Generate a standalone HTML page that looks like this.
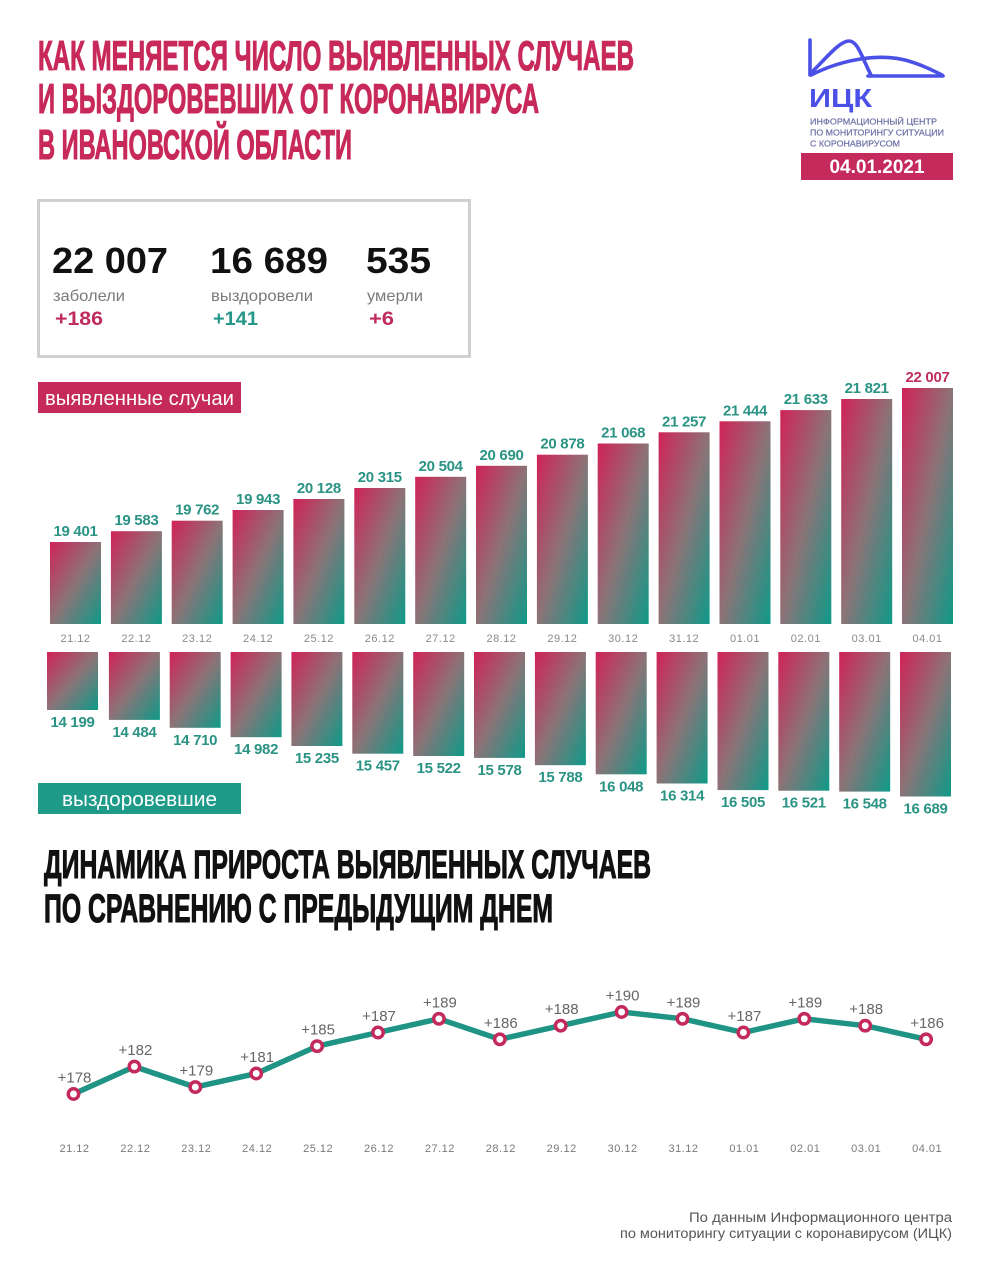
<!DOCTYPE html>
<html>
<head>
<meta charset="utf-8">
<style>
html,body{margin:0;padding:0;background:#fff;}
svg{display:block;}
text{font-family:"Liberation Sans","DejaVu Sans",sans-serif;}
</style>
</head>
<body>
<svg width="993" height="1280" viewBox="0 0 993 1280" xmlns="http://www.w3.org/2000/svg">
<defs>
<linearGradient id="g" x1="0" y1="0" x2="1" y2="1">
<stop offset="0" stop-color="#d02358"/>
<stop offset="0.5" stop-color="#8c7377"/>
<stop offset="1" stop-color="#0e9a89"/>
</linearGradient>
</defs>
<rect width="993" height="1280" fill="#fff"/>

<!-- Title -->
<g fill="#c8295b" stroke="#c8295b" stroke-width="1.1" font-weight="bold" font-size="42">
<text x="38" y="70" textLength="596" lengthAdjust="spacingAndGlyphs">КАК МЕНЯЕТСЯ ЧИСЛО ВЫЯВЛЕННЫХ СЛУЧАЕВ</text>
<text x="38" y="113" textLength="501" lengthAdjust="spacingAndGlyphs">И ВЫЗДОРОВЕВШИХ ОТ КОРОНАВИРУСА</text>
<text x="38" y="159" textLength="314" lengthAdjust="spacingAndGlyphs">В ИВАНОВСКОЙ ОБЛАСТИ</text>
</g>

<!-- Logo -->
<g fill="none" stroke="#4b50e6" stroke-width="3.6" stroke-linecap="round" stroke-linejoin="round">
<path d="M810,40 L810,75"/>
<path d="M811,73 C828,56 840,41 849,41 C858,41 862,58 871,75"/>
<path d="M811,75 C845,58 880,54 905,60 C920,64 932,70 942,75"/>
<path d="M868,76 L943,76"/>
</g>
<text x="809" y="107" font-size="26" font-weight="bold" fill="#4b50e6" textLength="63" lengthAdjust="spacingAndGlyphs">ИЦК</text>
<g fill="#6d70a6" font-size="8.5" stroke="#6d70a6" stroke-width="0.2">
<text x="810" y="124.5" textLength="127" lengthAdjust="spacingAndGlyphs">ИНФОРМАЦИОННЫЙ ЦЕНТР</text>
<text x="810" y="135.5" textLength="134" lengthAdjust="spacingAndGlyphs">ПО МОНИТОРИНГУ СИТУАЦИИ</text>
<text x="810" y="146.5" textLength="90" lengthAdjust="spacingAndGlyphs">С КОРОНАВИРУСОМ</text>
</g>
<rect x="801" y="153" width="152" height="27" fill="#c42a5c"/>
<text x="877" y="173" font-size="19" font-weight="bold" fill="#fff" text-anchor="middle" textLength="95" lengthAdjust="spacingAndGlyphs">04.01.2021</text>

<!-- Stats box -->
<rect x="38.5" y="200.5" width="431" height="156" fill="none" stroke="#d0d0d0" stroke-width="3"/>
<g font-size="36" font-weight="bold" fill="#111">
<text x="52" y="273" textLength="116" lengthAdjust="spacingAndGlyphs">22 007</text>
<text x="210" y="273" textLength="118" lengthAdjust="spacingAndGlyphs">16 689</text>
<text x="366" y="273" textLength="65" lengthAdjust="spacingAndGlyphs">535</text>
</g>
<g font-size="16" fill="#7a7a7a">
<text x="53" y="301" textLength="72" lengthAdjust="spacingAndGlyphs">заболели</text>
<text x="211" y="301" textLength="102" lengthAdjust="spacingAndGlyphs">выздоровели</text>
<text x="367" y="301" textLength="56" lengthAdjust="spacingAndGlyphs">умерли</text>
</g>
<g font-size="19" font-weight="bold">
<text x="55" y="325" fill="#c02c5c" textLength="48" lengthAdjust="spacingAndGlyphs">+186</text>
<text x="213" y="325" fill="#25968a" textLength="45" lengthAdjust="spacingAndGlyphs">+141</text>
<text x="369" y="325" fill="#c02c5c" textLength="25" lengthAdjust="spacingAndGlyphs">+6</text>
</g>

<!-- Label boxes -->
<rect x="38" y="382" width="203" height="31" fill="#c62a5a"/>
<text x="45" y="405" font-size="20" fill="#fff" textLength="189" lengthAdjust="spacingAndGlyphs">выявленные случаи</text>
<rect x="38" y="783" width="203" height="31" fill="#1e9a89"/>
<text x="62" y="806" font-size="20" fill="#fff" textLength="155" lengthAdjust="spacingAndGlyphs">выздоровевшие</text>

<!-- Top bars -->
<g fill="url(#g)">
<rect x="50.0" y="542.0" width="51" height="82.0"/>
<rect x="110.9" y="531.2" width="51" height="92.8"/>
<rect x="171.7" y="520.7" width="51" height="103.3"/>
<rect x="232.6" y="510.0" width="51" height="114.0"/>
<rect x="293.4" y="499.0" width="51" height="125.0"/>
<rect x="354.3" y="488.0" width="51" height="136.0"/>
<rect x="415.2" y="476.8" width="51" height="147.2"/>
<rect x="476.0" y="465.8" width="51" height="158.2"/>
<rect x="536.9" y="454.7" width="51" height="169.3"/>
<rect x="597.7" y="443.5" width="51" height="180.5"/>
<rect x="658.6" y="432.3" width="51" height="191.7"/>
<rect x="719.5" y="421.3" width="51" height="202.7"/>
<rect x="780.3" y="410.1" width="51" height="213.9"/>
<rect x="841.2" y="399.0" width="51" height="225.0"/>
<rect x="902.0" y="388.0" width="51" height="236.0"/>
</g>
<g font-size="15" font-weight="bold" fill="#2a9384" text-anchor="middle" letter-spacing="-0.3">
<text x="75.5" y="536">19 401</text>
<text x="136.4" y="525.2">19 583</text>
<text x="197.2" y="514.7">19 762</text>
<text x="258.1" y="504">19 943</text>
<text x="318.9" y="493">20 128</text>
<text x="379.8" y="482">20 315</text>
<text x="440.7" y="470.8">20 504</text>
<text x="501.5" y="459.8">20 690</text>
<text x="562.4" y="448.7">20 878</text>
<text x="623.2" y="437.5">21 068</text>
<text x="684.1" y="426.3">21 257</text>
<text x="745.0" y="415.3">21 444</text>
<text x="805.8" y="404.1">21 633</text>
<text x="866.7" y="393">21 821</text>
<text x="927.5" y="382" fill="#c02c5c">22 007</text>
</g>
<g font-size="11" fill="#8a8a8a" text-anchor="middle" letter-spacing="0.5">
<text x="75.5" y="642">21.12</text>
<text x="136.4" y="642">22.12</text>
<text x="197.2" y="642">23.12</text>
<text x="258.1" y="642">24.12</text>
<text x="318.9" y="642">25.12</text>
<text x="379.8" y="642">26.12</text>
<text x="440.7" y="642">27.12</text>
<text x="501.5" y="642">28.12</text>
<text x="562.4" y="642">29.12</text>
<text x="623.2" y="642">30.12</text>
<text x="684.1" y="642">31.12</text>
<text x="745.0" y="642">01.01</text>
<text x="805.8" y="642">02.01</text>
<text x="866.7" y="642">03.01</text>
<text x="927.5" y="642">04.01</text>
</g>

<!-- Bottom bars -->
<g fill="url(#g)">
<rect x="47.0" y="652" width="51" height="58.0"/>
<rect x="108.9" y="652" width="51" height="67.9"/>
<rect x="169.7" y="652" width="51" height="75.8"/>
<rect x="230.6" y="652" width="51" height="85.2"/>
<rect x="291.4" y="652" width="51" height="94.0"/>
<rect x="352.3" y="652" width="51" height="101.7"/>
<rect x="413.2" y="652" width="51" height="104.0"/>
<rect x="474.0" y="652" width="51" height="105.9"/>
<rect x="534.9" y="652" width="51" height="113.2"/>
<rect x="595.7" y="652" width="51" height="122.3"/>
<rect x="656.6" y="652" width="51" height="131.5"/>
<rect x="717.5" y="652" width="51" height="138.1"/>
<rect x="778.3" y="652" width="51" height="138.7"/>
<rect x="839.2" y="652" width="51" height="139.6"/>
<rect x="900.0" y="652" width="51" height="144.5"/>
</g>
<g font-size="15" font-weight="bold" fill="#2a9384" text-anchor="middle" letter-spacing="-0.3">
<text x="72.5" y="727">14 199</text>
<text x="134.4" y="736.9">14 484</text>
<text x="195.2" y="744.8">14 710</text>
<text x="256.1" y="754.2">14 982</text>
<text x="316.9" y="763">15 235</text>
<text x="377.8" y="770.7">15 457</text>
<text x="438.7" y="773">15 522</text>
<text x="499.5" y="774.9">15 578</text>
<text x="560.4" y="782.2">15 788</text>
<text x="621.2" y="791.3">16 048</text>
<text x="682.1" y="800.5">16 314</text>
<text x="743.0" y="807.1">16 505</text>
<text x="803.8" y="807.7">16 521</text>
<text x="864.7" y="808.6">16 548</text>
<text x="925.5" y="813.5">16 689</text>
</g>

<!-- Second title -->
<g fill="#111" stroke="#111" stroke-width="1.1" font-weight="bold" font-size="40">
<text x="44" y="878" textLength="607" lengthAdjust="spacingAndGlyphs">ДИНАМИКА ПРИРОСТА ВЫЯВЛЕННЫХ СЛУЧАЕВ</text>
<text x="44" y="922" textLength="509" lengthAdjust="spacingAndGlyphs">ПО СРАВНЕНИЮ С ПРЕДЫДУЩИМ ДНЕМ</text>
</g>

<!-- Line chart -->
<polyline fill="none" stroke="#1f9485" stroke-width="5.5" stroke-linejoin="round"
points="73.5,1094 134.4,1066.6 195.3,1087.1 256.2,1073.5 317.1,1046.2 378,1032.5 438.9,1018.8 499.8,1039.3 560.7,1025.7 621.6,1012 682.5,1018.8 743.4,1032.5 804.3,1018.8 865.2,1025.7 926.1,1039.3"/>
<g fill="#fff" stroke="#c32a5b" stroke-width="3.5">
<circle cx="73.5" cy="1094" r="5.2"/>
<circle cx="134.4" cy="1066.6" r="5.2"/>
<circle cx="195.3" cy="1087.1" r="5.2"/>
<circle cx="256.2" cy="1073.5" r="5.2"/>
<circle cx="317.1" cy="1046.2" r="5.2"/>
<circle cx="378" cy="1032.5" r="5.2"/>
<circle cx="438.9" cy="1018.8" r="5.2"/>
<circle cx="499.8" cy="1039.3" r="5.2"/>
<circle cx="560.7" cy="1025.7" r="5.2"/>
<circle cx="621.6" cy="1012" r="5.2"/>
<circle cx="682.5" cy="1018.8" r="5.2"/>
<circle cx="743.4" cy="1032.5" r="5.2"/>
<circle cx="804.3" cy="1018.8" r="5.2"/>
<circle cx="865.2" cy="1025.7" r="5.2"/>
<circle cx="926.1" cy="1039.3" r="5.2"/>
</g>
<g font-size="15" fill="#666" text-anchor="middle">
<text x="74.5" y="1082.5">+178</text>
<text x="135.4" y="1055.1">+182</text>
<text x="196.3" y="1075.6">+179</text>
<text x="257.2" y="1062">+181</text>
<text x="318.1" y="1034.7">+185</text>
<text x="379" y="1021">+187</text>
<text x="439.9" y="1007.3">+189</text>
<text x="500.8" y="1027.8">+186</text>
<text x="561.7" y="1014.2">+188</text>
<text x="622.6" y="1000.5">+190</text>
<text x="683.5" y="1007.3">+189</text>
<text x="744.4" y="1021">+187</text>
<text x="805.3" y="1007.3">+189</text>
<text x="866.2" y="1014.2">+188</text>
<text x="927.1" y="1027.8">+186</text>
</g>
<g font-size="11" fill="#7a7a7a" text-anchor="middle" letter-spacing="0.5">
<text x="74.5" y="1152">21.12</text>
<text x="135.4" y="1152">22.12</text>
<text x="196.3" y="1152">23.12</text>
<text x="257.2" y="1152">24.12</text>
<text x="318.1" y="1152">25.12</text>
<text x="379" y="1152">26.12</text>
<text x="439.9" y="1152">27.12</text>
<text x="500.8" y="1152">28.12</text>
<text x="561.7" y="1152">29.12</text>
<text x="622.6" y="1152">30.12</text>
<text x="683.5" y="1152">31.12</text>
<text x="744.4" y="1152">01.01</text>
<text x="805.3" y="1152">02.01</text>
<text x="866.2" y="1152">03.01</text>
<text x="927.1" y="1152">04.01</text>
</g>

<!-- Footer -->
<g font-size="13.5" fill="#555" text-anchor="end">
<text x="952" y="1222" textLength="263" lengthAdjust="spacingAndGlyphs">По данным Информационного центра</text>
<text x="952" y="1238" textLength="332" lengthAdjust="spacingAndGlyphs">по мониторингу ситуации с коронавирусом (ИЦК)</text>
</g>
</svg>
</body>
</html>
